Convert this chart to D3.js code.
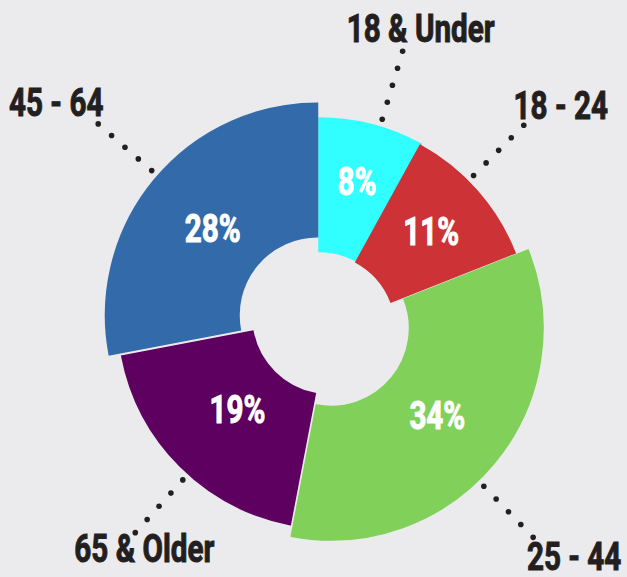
<!DOCTYPE html>
<html><head><meta charset="utf-8">
<script src="https://cdn.jsdelivr.net/npm/d3@7"></script>
<style>html,body{margin:0;padding:0;background:#ebebed;} svg{display:block}</style>
</head><body><svg id="c" width="627" height="577"></svg>
<script>
// ---- data ----
const categories = ["18 & Under", "18 - 24", "25 - 44", "65 & Older", "45 - 64"];
const shares = [8, 11, 34, 19, 28];
const percentLabels = ["8%", "11%", "34%", "19%", "28%"];
const colors = ["#31FFFF", "#CC3236", "#80D05A", "#5D0060", "#336BAA"];

// ---- layout (not data) ----
const center = [319, 330];
const rInner = 78.5, rOuter = 212;
const sliceShift = [[0,0],[-1,1],[12,-2],[11,-13.6],[-1.5,-14.8]];
const leaderNudge = [2.3, -3.6, 6.4, -3, 1.5]; // degrees
const pctRadius = [153, 151, 138, 131, 136];
const labelOffset = [[18,-9],[37,-6],[41,33],[9,29],[-42,-8]];
const textColor = "#231F20";
const squeeze = 0.78;

const svg = d3.select("#c");
svg.append("rect").attr("width",627).attr("height",577).attr("fill","#ebebed");

const pie = d3.pie().sort(null).value(d => d);
const arcs = pie(shares);
const arc = d3.arc().innerRadius(rInner).outerRadius(rOuter);

const slices = svg.append("g");
const labels = svg.append("g");
arcs.forEach((a, i) => {
  const cx = center[0] + sliceShift[i][0], cy = center[1] + sliceShift[i][1];
  slices.append("path")
    .attr("transform", `translate(${cx},${cy})`)
    .attr("d", arc(a)).attr("fill", colors[i])
    .attr("stroke", colors[i]).attr("stroke-width", 1.5).attr("stroke-linejoin", "miter");

  const sg = labels.append("g").attr("transform", `translate(${cx},${cy})`);
  const mid = (a.startAngle + a.endAngle) / 2;
  // percent label
  const pr = pctRadius[i];
  const px = Math.sin(mid) * pr, py = -Math.cos(mid) * pr;
  sg.append("text")
    .attr("transform", `translate(${px},${py + 13.5}) scale(${squeeze},1)`)
    .attr("text-anchor", "middle")
    .attr("font-family", "Roboto, 'DejaVu Sans', sans-serif")
    .attr("font-weight", 700)
    .attr("font-size", 38)
    .attr("fill", "#ffffff")
    .attr("stroke", "#ffffff").attr("stroke-width", 1)
    .text(percentLabels[i]);

  // leader dots
  const la = mid + leaderNudge[i] * Math.PI / 180;
  const radii = d3.range(5).map(k => 220 + k * 17.75);
  radii.forEach(r => {
    sg.append("circle")
      .attr("cx", Math.sin(la) * r).attr("cy", -Math.cos(la) * r)
      .attr("r", 2.8).attr("fill", textColor);
  });
  const ex = Math.sin(la) * radii[4], ey = -Math.cos(la) * radii[4];
  sg.append("text")
    .attr("transform", `translate(${ex + labelOffset[i][0]},${ey + labelOffset[i][1]}) scale(${squeeze},1)`)
    .attr("text-anchor", "middle")
    .attr("font-family", "Roboto, 'DejaVu Sans', sans-serif")
    .attr("font-weight", 700)
    .attr("font-size", 38)
    .attr("fill", textColor)
    .attr("stroke", textColor).attr("stroke-width", 1)
    .text(categories[i]);
});
</script></body></html>
